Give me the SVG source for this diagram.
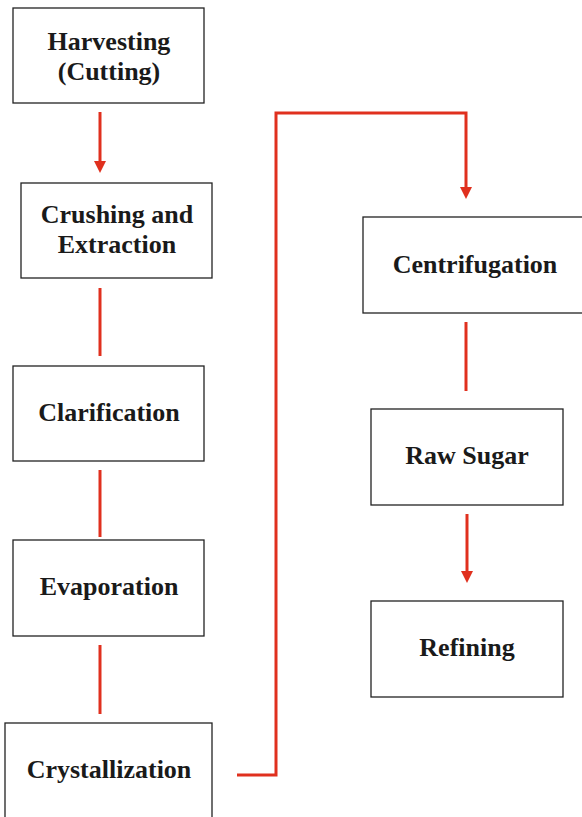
<svg xmlns="http://www.w3.org/2000/svg" width="582" height="817" viewBox="0 0 582 817">
<defs>
<style>
.box{fill:#fff;stroke:#222;stroke-width:1.3}
.t{font-family:"Liberation Serif","Times New Roman",serif;font-weight:bold;font-size:26px;fill:#1a1a1a;text-anchor:middle}
.c{fill:none;stroke:#e0301e;stroke-width:3}
.ah{fill:#e0301e}
</style>
</defs>
<rect width="582" height="817" fill="#fff"/>
<g id="n1"><rect class="box" x="13" y="8" width="191" height="95"/><text class="t" x="109" y="50">Harvesting</text><text class="t" x="109" y="80">(Cutting)</text></g>
<g id="n2"><rect class="box" x="21" y="183" width="191" height="95"/><text class="t" x="117" y="223">Crushing and</text><text class="t" x="117" y="253">Extraction</text></g>
<g id="n3"><rect class="box" x="13" y="366" width="191" height="95"/><text class="t" x="109" y="421">Clarification</text></g>
<g id="n4"><rect class="box" x="13" y="540" width="191" height="96"/><text class="t" x="109" y="595">Evaporation</text></g>
<g id="n5"><rect class="box" x="5" y="723" width="207" height="100"/><text class="t" x="109" y="778">Crystallization</text></g>
<g id="n6"><rect class="box" x="363" y="217" width="225" height="96"/><text class="t" x="475" y="273">Centrifugation</text></g>
<g id="n7"><rect class="box" x="371" y="409" width="192" height="96"/><text class="t" x="467" y="464">Raw Sugar</text></g>
<g id="n8"><rect class="box" x="371" y="601" width="192" height="96"/><text class="t" x="467" y="656">Refining</text></g>
<g id="connectors">
<line class="c" x1="100" y1="112" x2="100" y2="162"/>
<path class="ah" d="M94,161 L106,161 L100,173 Z"/>
<line class="c" x1="100" y1="288" x2="100" y2="356"/>
<line class="c" x1="100" y1="470" x2="100" y2="537"/>
<line class="c" x1="100" y1="645" x2="100" y2="714"/>
<path class="c" d="M237,775 L276,775 L276,113 L466,113 L466,188"/>
<path class="ah" d="M460,187 L472,187 L466,199 Z"/>
<line class="c" x1="466" y1="322" x2="466" y2="391"/>
<line class="c" x1="467" y1="514" x2="467" y2="572"/>
<path class="ah" d="M461,571 L473,571 L467,583 Z"/>
</g>
</svg>
